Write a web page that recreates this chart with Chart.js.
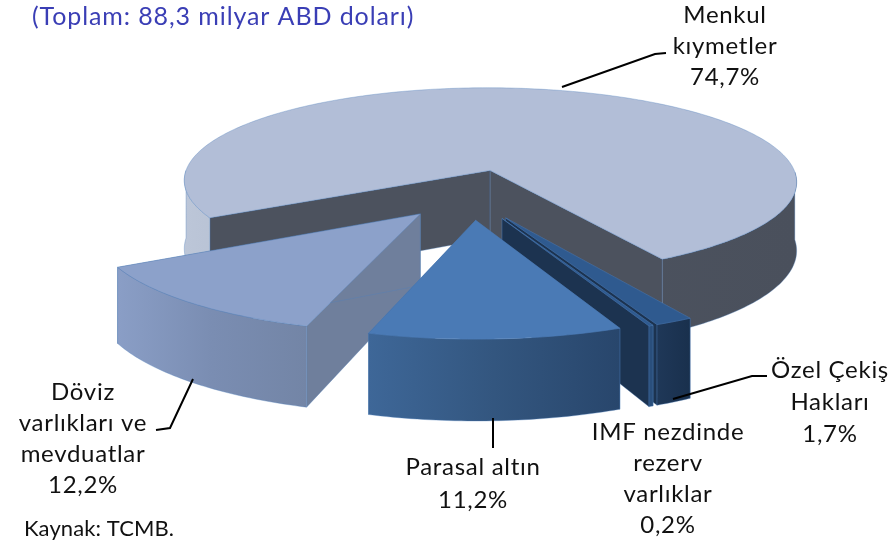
<!DOCTYPE html>
<html>
<head>
<meta charset="utf-8">
<title>Rezerv varlıklar</title>
<script src="https://cdn.jsdelivr.net/npm/chart.js@4"></script>
<style>
  html, body { margin: 0; background: #fff; }
  canvas { display: block; }
</style>
</head>
<body>
<canvas id="pie" width="895" height="542"></canvas>
<script>
// values, clockwise from the left edge of the big slice
const categories = ["Menkul kıymetler", "Özel Çekiş Hakları", "IMF nezdinde rezerv varlıklar", "Parasal altın", "Döviz varlıkları ve mevduatlar"];
const shares = [74.7, 1.7, 0.2, 11.2, 12.2];
const labelLines = [
  ["Menkul", "kıymetler"],
  ["Özel Çekiş", "Hakları"],
  ["IMF nezdinde", "rezerv", "varlıklar"],
  ["Parasal altın"],
  ["Döviz", "varlıkları ve", "mevduatlar"],
];
const titleText = "(Toplam: 88,3 milyar ABD doları)";
const sourceText = "Kaynak: TCMB.";

// how far each slice is pulled out, in percent of the radius
const explode = [31, 21, 21, 21, 24];

const topColors = ["#b2bed7", "#2f5a8f", "#2f5a8f", "#4a7ab5", "#8ca1ca"];
const sideColors = ["#4c525e", "#1c3350", "#1c3350", "#2b4a72", "#6f7f9c"];
const wallStops = [
  [[0, "#bcc6d8"], [0.2, "#b0bacd"], [0.21, "#4e5562"], [1, "#4a505c"]],
  [[0, "#1f3858"], [1, "#19304d"]],
  [[0, "#2a4f7c"], [1, "#2a4f7c"]],
  [[0, "#3e6798"], [0.5, "#33567f"], [1, "#28466c"]],
  [[0, "#8a9ec6"], [0.5, "#7a8db2"], [1, "#7385a6"]],
];

// camera for the tilted pie
const centerX = 472;
const centerY = 199;
const radiusX = 315;
const tilt = 99;
const depth = 70;
const persp = 0.12;

// small screen corrections per slice, the source picture is not a clean projection
const nudgeX = [-7, 3, 3, 0, -3];
const nudgeY = [0, 0, 0, 0, -4];

function project(u, v, z, i) {
  let w = 1 - persp * v;
  return {
    x: centerX + nudgeX[i] + (radiusX * u) / w,
    y: centerY + nudgeY[i] + (tilt * v) / w + (z * depth) / w,
  };
}

function tracePath(ctx, points) {
  ctx.beginPath();
  points.forEach((p, i) => {
    if (i == 0) ctx.moveTo(p.x, p.y);
    else ctx.lineTo(p.x, p.y);
  });
  ctx.closePath();
}

function fillFace(ctx, points, fill) {
  tracePath(ctx, points);
  ctx.fillStyle = fill;
  ctx.fill();
  ctx.lineWidth = 1;
  ctx.strokeStyle = "rgba(79,129,189,0.35)";
  ctx.stroke();
}

function drawSlice(ctx, arc, i) {
  let start = arc.startAngle;
  let end = arc.endAngle;
  let mid = (start + end) / 2;
  let pull = arc.options.offset / 100;
  let cu = pull * Math.cos(mid);
  let cv = pull * Math.sin(mid);

  // rim samples, about one per degree
  let steps = Math.max(2, Math.ceil(((end - start) * 180) / Math.PI));
  let rim = [];
  for (let s = 0; s <= steps; s++) {
    let a = start + ((end - start) * s) / steps;
    rim.push({ a: a, u: cu + Math.cos(a), v: cv + Math.sin(a) });
  }

  let first = rim[0];
  let last = rim[rim.length - 1];

  // the two cut faces
  [first, last].forEach((r) => {
    fillFace(ctx, [project(cu, cv, 0, i), project(r.u, r.v, 0, i), project(r.u, r.v, 1, i), project(cu, cv, 1, i)], sideColors[i]);
  });

  // outer wall, only the part that faces the viewer
  let xs = rim.map((r) => project(r.u, r.v, 0, i).x);
  let grad = ctx.createLinearGradient(Math.min(...xs), 0, Math.max(...xs), 0);
  wallStops[i].forEach((st) => grad.addColorStop(st[0], st[1]));
  let run = [];
  let flush = () => {
    if (run.length > 1) {
      let topEdge = run.map((r) => project(r.u, r.v, 0, i));
      let bottomEdge = run.map((r) => project(r.u, r.v, 1, i)).reverse();
      fillFace(ctx, topEdge.concat(bottomEdge), grad);
    }
    run = [];
  };
  rim.forEach((r) => {
    if (Math.sin(r.a) >= 0) run.push(r);
    else flush();
  });
  flush();

  // top face
  fillFace(ctx, [project(cu, cv, 0, i)].concat(rim.map((r) => project(r.u, r.v, 0, i))), topColors[i]);
}

const pie3d = {
  id: "pie3d",
  beforeDatasetsDraw(chart) {
    let ctx = chart.ctx;
    let arcs = chart.getDatasetMeta(0).data;
    // back slices first
    let order = arcs.map((arc, i) => i);
    let sinMid = (i) => Math.sin((arcs[i].startAngle + arcs[i].endAngle) / 2);
    order.sort((a, b) => sinMid(a) - sinMid(b));
    ctx.save();
    ctx.lineJoin = "round";
    order.forEach((i) => drawSlice(ctx, arcs[i], i));
    ctx.restore();
    return false;
  },
};

// where each label block sits: centre x and first baseline
const labelSpots = [
  { x: 725, y: 23 },
  { x: 830, y: 378 },
  { x: 668, y: 440 },
  { x: 473, y: 475 },
  { x: 83, y: 400 },
];
const labelGaps = [31, 32, 31, 33, 31];

const leaderLines = [
  [[562, 87], [655, 54], [666, 53]],
  [[673, 399], [752, 376], [767, 376]],
  [],
  [[493, 418], [493, 448]],
  [[193, 379], [170, 428], [156, 430]],
];

const labelsPlugin = {
  id: "labelsPlugin",
  afterDraw(chart) {
    let ctx = chart.ctx;
    ctx.save();
    ctx.strokeStyle = "#000";
    ctx.lineWidth = 2;
    leaderLines.forEach((line) => {
      ctx.beginPath();
      line.forEach((p, i) => {
        if (i == 0) ctx.moveTo(p[0], p[1]);
        else ctx.lineTo(p[0], p[1]);
      });
      ctx.stroke();
    });

    ctx.font = "24px Lato";
    ctx.letterSpacing = "0.7px";
    ctx.fillStyle = "#111";
    ctx.textAlign = "center";
    ctx.textBaseline = "alphabetic";
    labelLines.forEach((lines, i) => {
      let rows = lines.concat(shares[i].toString().replace(".", ",") + "%");
      rows.forEach((row, r) => {
        ctx.fillText(row, labelSpots[i].x, labelSpots[i].y + r * labelGaps[i]);
      });
    });

    ctx.textAlign = "left";
    ctx.font = "25px Lato";
    ctx.letterSpacing = "0.9px";
    ctx.fillStyle = "#3a3eb5";
    ctx.fillText(titleText, 32, 25);

    ctx.font = "22px Lato";
    ctx.letterSpacing = "0.1px";
    ctx.fillStyle = "#111";
    ctx.fillText(sourceText, 24, 536);
    ctx.restore();
  },
};

let myChart = new Chart(document.getElementById("pie"), {
  type: "pie",
  plugins: [pie3d, labelsPlugin],
  data: {
    labels: categories,
    datasets: [
      {
        data: shares,
        backgroundColor: topColors,
        offset: explode,
      },
    ],
  },
  options: {
    responsive: false,
    animation: false,
    rotation: 241,
    plugins: {
      legend: { display: false },
      tooltip: { enabled: false },
    },
  },
});
</script>
</body>
</html>
